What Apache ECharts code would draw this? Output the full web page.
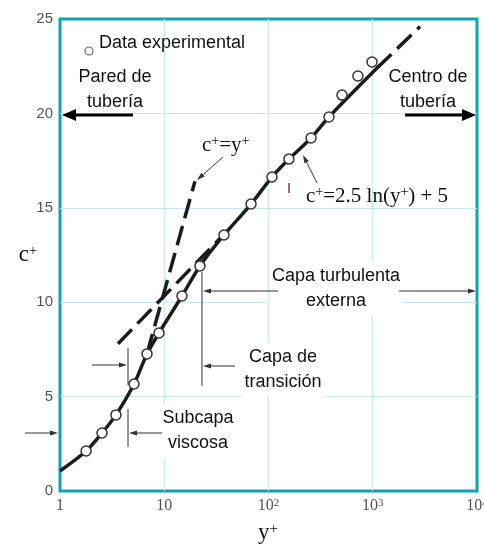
<!DOCTYPE html>
<html>
<head>
<meta charset="utf-8">
<script src="https://cdn.jsdelivr.net/npm/echarts@6/dist/echarts.min.js"></script>
<style>
  html, body { margin: 0; padding: 0; background: #fff; }
  #chart { width: 484px; height: 554px; }
</style>
</head>
<body>
<div id="chart"></div>
<script>
  // puntos experimentales (y+, c+)
  const expX = [1.78, 2.53, 3.44, 5.13, 6.83, 8.9, 14.8, 22, 37.4, 68, 108, 157, 256, 380, 507, 721, 984]
  const expY = [2.12, 3.07, 4.03, 5.67, 7.26, 8.37, 10.33, 11.92, 13.56, 15.2, 16.63, 17.58, 18.7, 19.81, 20.97, 21.98, 22.72]

  // curva continua del perfil
  const curveX = [1, 1.78, 2.53, 3.44, 5.13, 6.83, 8.9, 14.8, 22, 37.4, 68, 108, 157, 256, 380, 1175]
  const curveY = [1.06, 2.12, 3.07, 4.03, 5.67, 7.26, 8.37, 10.33, 11.92, 13.56, 15.2, 16.63, 17.58, 18.7, 19.81, 22.56]

  // ley logaritmica c+=2.5 ln(y+) + 5 (trazo discontinuo, tramos fuera de la curva)
  const logLawLowX = [3.6, 37.4]
  const logLawLowY = [7.8, 13.6]
  const logLawHighX = [1100, 2840]
  const logLawHighY = [22.4, 24.6]

  // subcapa viscosa c+=y+ (trazo discontinuo)
  const linearX = [6.85, 19.7]
  const linearY = [7.3, 16.4]

  const xTickLabels = {1: '1', 10: '10', 100: '10{s|2}', 1000: '10{s|3}', 10000: '10{s|4}'}
  const yTicks = [0, 5, 10, 15, 20, 25]

  const pairs = (xs, ys) => xs.map((x, i) => [x, ys[i]])

  const ink = '#1c1c1c'
  const thin = '#333'
  const teal = '#0ea2b3'

  function arrow(x1, y1, x2, y2, w, hl, hw, color) {
    const a = Math.atan2(y2 - y1, x2 - x1)
    const c = Math.cos(a), s = Math.sin(a)
    const bx = x2 - hl * c, by = y2 - hl * s
    return [
      {type: 'line', z: 5, shape: {x1: x1, y1: y1, x2: bx, y2: by}, style: {stroke: color, lineWidth: w}},
      {type: 'polygon', z: 5, shape: {points: [[x2, y2], [bx + hw * s, by - hw * c], [bx - hw * s, by + hw * c]]}, style: {fill: color}}
    ]
  }
  function vline(x, y1, y2) {
    return {type: 'line', z: 5, shape: {x1: x, y1: y1, x2: x, y2: y2}, style: {stroke: thin, lineWidth: 1}}
  }
  function label(text, x, y, opts) {
    return {
      type: 'text', z: 1,
      style: Object.assign({
        text: text, x: x, y: y,
        fontSize: 18, fontFamily: 'Liberation Sans, Arial, sans-serif',
        fill: '#111', align: 'center', verticalAlign: 'middle', lineHeight: 25
      }, opts || {})
    }
  }
  const serifRich = {
    b: {fontSize: 21, fontFamily: 'Liberation Serif, Times New Roman, serif', fill: '#111'},
    s: {fontSize: 14, fontFamily: 'Liberation Serif, Times New Roman, serif', fill: '#111', verticalAlign: 'top'}
  }
  const dashed = {color: ink, width: 3.5, type: [20, 8], cap: 'butt'}

  const chart = echarts.init(document.getElementById('chart'))

  let graphic = [
    // leyenda
    {type: 'circle', z: 3, shape: {cx: 89, cy: 51, r: 4}, style: {fill: '#fff', stroke: '#666', lineWidth: 1.2}},
    label('Data experimental', 99, 43, {align: 'left'}),
    label('Pared de\ntubería', 115, 90),
    label('Centro de\ntubería', 428, 90),
    label('Capa turbulenta\nexterna', 336, 289, {backgroundColor: '#fff', padding: [2, 2]}),
    label('Capa de\ntransición', 283, 370, {backgroundColor: '#fff', padding: [2, 2]}),
    label('Subcapa\nviscosa', 198, 431, {backgroundColor: '#fff', padding: [2, 2]}),
    {type: 'text', z: 3, style: {text: '{b|c}{s|+}{b|=y}{s|+}', x: 202, y: 145, align: 'left', verticalAlign: 'middle', rich: serifRich}},
    {type: 'text', z: 3, style: {text: '{b|c}{s|+}{b|=2.5 ln(y}{s|+}{b|) + 5}', x: 306, y: 196, align: 'left', verticalAlign: 'middle', rich: serifRich}},
    {type: 'text', z: 3, style: {text: '{b|c}{s|+}', x: 28, y: 255, align: 'center', verticalAlign: 'middle', rich: {
      b: {fontSize: 23, fontFamily: 'Liberation Serif, serif', fill: '#111'},
      s: {fontSize: 15, fontFamily: 'Liberation Serif, serif', fill: '#111', verticalAlign: 'top'}}}},
    {type: 'text', z: 3, style: {text: '{b|y}{s|+}', x: 268, y: 533, align: 'center', verticalAlign: 'middle', rich: {
      b: {fontSize: 23, fontFamily: 'Liberation Serif, serif', fill: '#111'},
      s: {fontSize: 15, fontFamily: 'Liberation Serif, serif', fill: '#111', verticalAlign: 'top'}}}},
    {type: 'line', z: 5, shape: {x1: 289, y1: 183, x2: 289, y2: 193}, style: {stroke: '#8a3b3b', lineWidth: 1.5}},
    vline(202, 272, 386),
    vline(128, 348, 385),
    vline(128, 409, 447)
  ]
  graphic = graphic
    .concat(arrow(133, 115, 62, 115, 3, 14, 6, '#000'))
    .concat(arrow(405, 115, 476, 115, 3, 14, 6, '#000'))
    .concat(arrow(278, 291, 203, 291, 1, 8, 2.5, thin))
    .concat(arrow(399, 291, 476, 291, 1, 8, 2.5, thin))
    .concat(arrow(235, 366, 203, 366, 1, 8, 2.5, thin))
    .concat(arrow(92, 365, 127, 365, 1, 8, 2.5, thin))
    .concat(arrow(25, 433, 58, 433, 1, 8, 2.5, thin))
    .concat(arrow(162, 433, 129, 433, 1, 8, 2.5, thin))
    .concat(arrow(223, 157, 197, 180, 1, 8, 2.5, thin))
    .concat(arrow(317, 183, 303, 155, 1, 8, 2.5, thin))

  const option = {
    animation: false,
    grid: {
      left: 60, right: 7, top: 19, bottom: 63,
      outerBoundsMode: 'none',
      containLabel: false,
      show: true, borderColor: teal, borderWidth: 3
    },
    xAxis: {
      type: 'log', logBase: 10, min: 1, max: 10000,
      axisLine: {show: false},
      axisTick: {show: false},
      splitLine: {show: true, showMinLine: false, showMaxLine: false, lineStyle: {color: '#c6e8ee', width: 1}},
      minorSplitLine: {show: false},
      axisLabel: {
        margin: 7,
        color: '#5c5048',
        fontSize: 16,
        hideOverlap: false,
        fontFamily: 'Liberation Serif, Times New Roman, serif',
        formatter: v => xTickLabels[Math.round(v)] || '',
        rich: {s: {fontSize: 11, verticalAlign: 'top', color: '#5c5048', fontFamily: 'Liberation Serif, serif'}}
      }
    },
    yAxis: {
      type: 'value', min: yTicks[0], max: yTicks[yTicks.length - 1], interval: 5,
      axisLine: {show: false},
      axisTick: {show: false},
      splitLine: {show: true, showMinLine: false, showMaxLine: false, lineStyle: {color: '#c6e8ee', width: 1}},
      axisLabel: {
        margin: 7,
        color: '#5c5048',
        fontSize: 15,
        fontFamily: 'Liberation Sans, Arial, sans-serif'
      }
    },
    series: [
      {type: 'line', data: pairs(logLawLowX, logLawLowY), symbol: 'none', z: 2, lineStyle: dashed},
      {type: 'line', data: pairs(logLawHighX, logLawHighY), symbol: 'none', z: 2, lineStyle: dashed},
      {type: 'line', data: pairs(linearX, linearY), symbol: 'none', z: 2, lineStyle: dashed},
      {
        type: 'line', data: pairs(curveX, curveY), symbol: 'none', smooth: 0.3, z: 3,
        lineStyle: {color: ink, width: 3.5}
      },
      {
        type: 'scatter', data: pairs(expX, expY), symbol: 'circle', symbolSize: 10, z: 4,
        itemStyle: {color: '#fff', opacity: 1, borderColor: '#333', borderWidth: 1.5}
      }
    ],
    graphic: graphic
  }

  chart.setOption(option)
</script>
</body>
</html>
